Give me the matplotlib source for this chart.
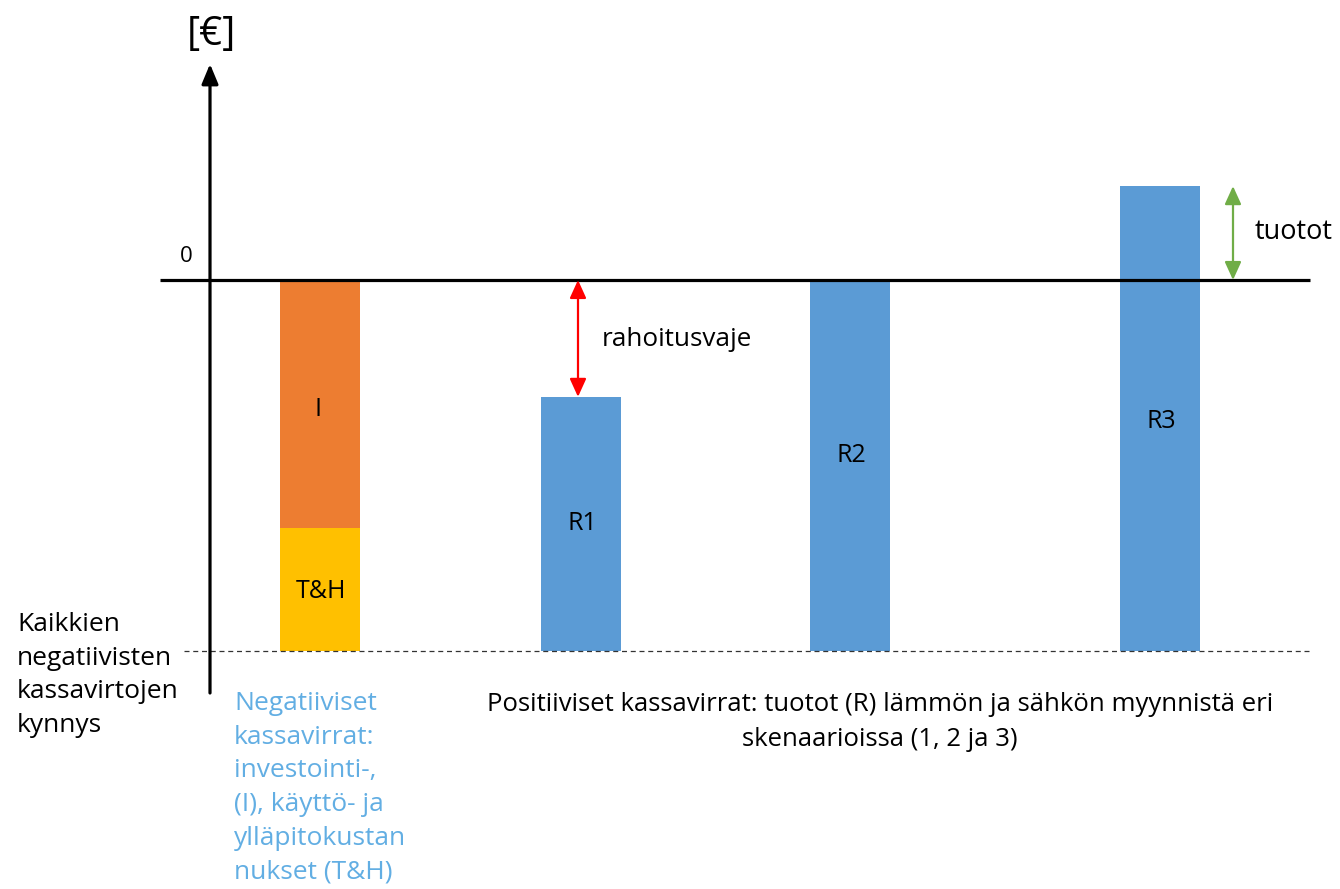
import matplotlib
matplotlib.use("Agg")
from matplotlib import pyplot as plt

plt.rcParams['font.family'] = ['Open Sans', 'DejaVu Sans']

# data (units: zero line = 0, threshold of all negative cash flows = -10)
threshold = -10.0
cost_labels = ['I', 'T&H']
cost_heights = [6.68, 3.32]          # I on top, T&H at the bottom
rev_labels = ['R1', 'R2', 'R3']
rev_tops = [-3.15, 0.0, 2.53]        # top of each revenue bar

cost_color = ['#ED7D31', '#FFC000']
rev_color = '#5B9BD5'

# layout (pixel-ish x scale)
cost_x = 319.5
rev_x = [581, 850, 1160]
bar_w = 80
px_per_unit = 37.1
zero_px = 280

def py(y_px):
    # convert a pixel row of the layout to data units
    return (zero_px - y_px) / px_per_unit

fig = plt.figure(figsize=(13.4, 8.89), dpi=100)
ax = fig.add_axes([0, 0, 1, 1])
ax.set_xlim(0, 1340)
ax.set_ylim(py(889), py(0))
ax.axis('off')

# stacked negative cash flow bar
ax.bar(cost_x, cost_heights[1], bar_w, bottom=threshold, color=cost_color[1])
ax.bar(cost_x, cost_heights[0], bar_w, bottom=threshold + cost_heights[1], color=cost_color[0])
ax.text(cost_x - 1, py(410), cost_labels[0], ha='center', va='center', fontsize=18)
ax.text(cost_x + 1, py(591), cost_labels[1], ha='center', va='center', fontsize=18)

# revenue bars
label_rows = [524, 456, 421]
for x, top, lab, row in zip(rev_x, rev_tops, rev_labels, label_rows):
    ax.bar(x, top - threshold, bar_w, bottom=threshold, color=rev_color)
    ax.text(x + 1, py(row), lab, ha='center', va='center', fontsize=18)

# axes lines
ax.plot([160, 1310], [0, 0], color='black', lw=2.3, solid_capstyle='butt', zorder=3)
ax.plot([184, 1310], [threshold, threshold], color='#333333', lw=0.9,
        dashes=(4, 3), zorder=3)
ax.annotate('', xy=(210, py(64)), xytext=(210, py(693)),
            arrowprops=dict(arrowstyle='-|>,head_length=0.6,head_width=0.25',
                            mutation_scale=20, color='black', lw=2.3,
                            shrinkA=0, shrinkB=0), zorder=4)

# gap / revenue arrows
ax.annotate('', xy=(578, 0), xytext=(578, rev_tops[0]),
            arrowprops=dict(arrowstyle='<|-|>,head_length=0.55,head_width=0.25',
                            mutation_scale=20, color='#FF0000', lw=1.6,
                            shrinkA=0, shrinkB=0))
ax.annotate('', xy=(1233, 0), xytext=(1233, rev_tops[2]),
            arrowprops=dict(arrowstyle='<|-|>,head_length=0.55,head_width=0.25',
                            mutation_scale=20, color='#70AD47', lw=1.6,
                            shrinkA=0, shrinkB=0))

# texts
ax.text(211, py(35), '[€]', ha='center', va='center', fontsize=29)
ax.text(186, py(256), '0', ha='center', va='center', fontsize=16)
ax.text(602, py(340), 'rahoitusvaje', ha='left', va='center', fontsize=18.8)
ax.text(1255, py(232), 'tuotot', ha='left', va='center', fontsize=19.5)
ax.text(17, py(612), 'Kaikkien\nnegatiivisten\nkassavirtojen\nkynnys',
        ha='left', va='top', fontsize=19, linespacing=1.46)
ax.text(234, py(691), 'Negatiiviset\nkassavirrat:\ninvestointi-,\n(I), käyttö- ja\nylläpitokustan\nnukset (T&H)',
        ha='left', va='top', fontsize=19, linespacing=1.46, color='#62AEE3')
ax.text(880, py(692), 'Positiiviset kassavirrat: tuotot (R) lämmön ja sähkön myynnistä eri\nskenaarioissa (1, 2 ja 3)',
        ha='center', va='top', fontsize=18.5, linespacing=1.53)

fig.savefig('out.png', dpi=100)
